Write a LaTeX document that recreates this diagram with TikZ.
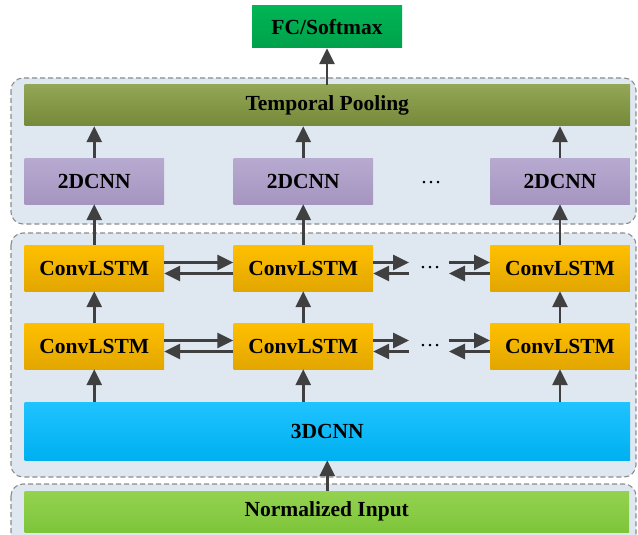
\documentclass[tikz,border=0pt]{standalone}
\usepackage{fontspec}
\setmainfont{Liberation Serif}
\usetikzlibrary{arrows.meta}
\definecolor{arrc}{HTML}{404040}
\definecolor{contfill}{HTML}{DFE8F1}
\definecolor{contdraw}{HTML}{8C8C8C}
\definecolor{fctop}{HTML}{00B554}
\definecolor{fcbot}{HTML}{00A14B}
\definecolor{tptop}{HTML}{93A655}
\definecolor{tpbot}{HTML}{76893A}
\definecolor{cnntop}{HTML}{B7AAD0}
\definecolor{cnnbot}{HTML}{A595C0}
\definecolor{lstmtop}{HTML}{FFC000}
\definecolor{lstmbot}{HTML}{E2A600}
\definecolor{thrtop}{HTML}{1FC3FF}
\definecolor{thrbot}{HTML}{00B0F0}
\definecolor{nitop}{HTML}{94D250}
\definecolor{nibot}{HTML}{7EC53A}
\tikzset{
  blk/.style={inner sep=0pt, font=\bfseries\fontsize{21.5}{25}\selectfont, text=black},
  fcbox/.style={blk, top color=fctop, bottom color=fcbot, minimum width=150pt, minimum height=42pt},
  tpbox/.style={blk, top color=tptop, bottom color=tpbot, minimum width=605.5pt, minimum height=41pt},
  cnntwo/.style={blk, top color=cnntop, bottom color=cnnbot, minimum width=139.5pt, minimum height=46pt},
  lstm/.style={blk, top color=lstmtop, bottom color=lstmbot, minimum width=139.5pt, minimum height=46pt},
  cnnthree/.style={blk, top color=thrtop, bottom color=thrbot, minimum width=605.5pt, minimum height=58pt},
  nibox/.style={blk, top color=nitop, bottom color=nibot, minimum width=604.5pt, minimum height=41pt},
  cont/.style={draw=contdraw, fill=contfill, dashed, dash pattern=on 5pt off 3pt, line width=1.1pt, rounded corners=12pt},
  arr/.style={draw=arrc, line width=2.8pt, -{Triangle[length=16pt,width=15pt]}},
  dotsnode/.style={inner sep=0pt, font=\fontsize{21}{24}\selectfont},
}
\begin{document}
\begin{tikzpicture}[x=1pt,y=-1pt]
\useasboundingbox (0,0) rectangle (638,535);
\clip (0,0) rectangle (638,535);
% containers
\draw[cont] (11,78) rectangle (636,224);
\draw[cont] (11,233) rectangle (636,477);
\draw[cont] (11,484) rectangle (636,560);
% boxes
\node[fcbox] (fc) at (327,27) {FC/Softmax};
\node[tpbox] (tp) at (327.25,105.5) {Temporal Pooling};
\node[cnntwo] (t1) at (94.25,181) {2DCNN};
\node[cnntwo] (t2) at (303.25,181) {2DCNN};
\node[cnntwo] (t3) at (560,181) {2DCNN};
\node[dotsnode] (td) at (431,183) {\dots};
\node[lstm] (a1) at (94.25,268) {ConvLSTM};
\node[lstm] (a2) at (303.25,268) {ConvLSTM};
\node[lstm] (a3) at (560,268) {ConvLSTM};
\node[lstm] (b1) at (94.25,346) {ConvLSTM};
\node[lstm] (b2) at (303.25,346) {ConvLSTM};
\node[lstm] (b3) at (560,346) {ConvLSTM};
\node[cnnthree] (c3d) at (327.25,431) {3DCNN};
\node[nibox] (ni) at (326.75,511.5) {Normalized Input};
\node[dotsnode] (ad) at (430,268) {\dots};
\node[dotsnode] (bd) at (430,346) {\dots};
\coordinate (adl) at (409,268);
\coordinate (adr) at (449,268);
\coordinate (bdl) at (409,346);
\coordinate (bdr) at (449,346);
% vertical arrows
\draw[arr] (tp.north -| fc) -- (fc.south);
\foreach \c in {1,2,3}{
  \draw[arr] (t\c.north) -- (t\c.north |- tp.south);
  \draw[arr] (a\c.north) -- (t\c.south);
  \draw[arr] (b\c.north) -- (a\c.south);
  \draw[arr] (b\c.south |- c3d.north) -- (b\c.south);
}
\draw[arr] (ni.north -| c3d) -- (c3d.south);
% horizontal arrows
\foreach \r in {a,b}{
  \draw[arr] ([yshift=5.5pt]\r1.east) -- ([yshift=5.5pt]\r2.west);
  \draw[arr] ([yshift=-5.5pt]\r2.west) -- ([yshift=-5.5pt]\r1.east);
  \draw[arr] ([yshift=5.5pt]\r2.east) -- ([yshift=5.5pt]\r dl);
  \draw[arr] ([yshift=-5.5pt]\r dl) -- ([yshift=-5.5pt]\r2.east);
  \draw[arr] ([yshift=5.5pt]\r dr) -- ([yshift=5.5pt]\r3.west);
  \draw[arr] ([yshift=-5.5pt]\r3.west) -- ([yshift=-5.5pt]\r dr);
}
\end{tikzpicture}
\end{document}
